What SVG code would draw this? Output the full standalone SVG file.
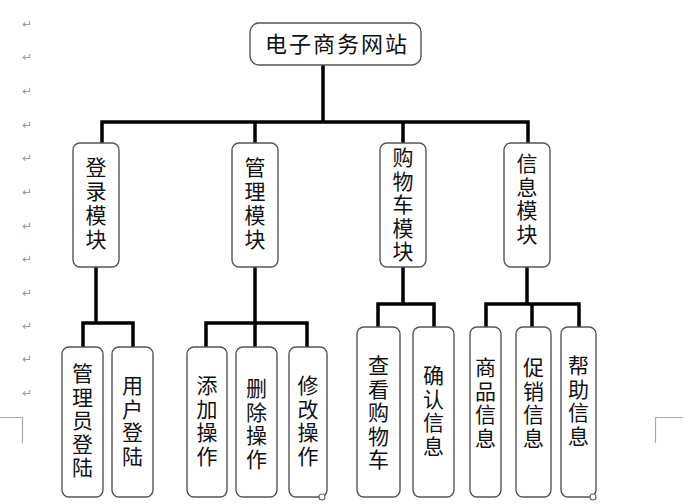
<svg xmlns="http://www.w3.org/2000/svg" width="693" height="504" viewBox="0 0 693 504">
<style>
.box{fill:#fff;stroke:#555;stroke-width:1.4}
.t{font-family:"Noto Sans CJK SC","Liberation Sans",sans-serif;font-size:21px;fill:#111;text-anchor:middle}
.top{font-size:22px;letter-spacing:2px}
.c{fill:none;stroke:#000;stroke-width:3.5;stroke-linejoin:miter}
.pm{font-family:"DejaVu Sans",sans-serif;font-size:12px;fill:#999;text-anchor:middle}
.mk{fill:none;stroke:#aaa;stroke-width:1.2}
</style>
<rect width="693" height="504" fill="#fff"/>
<g id="marks">
<text class="pm" x="27" y="28">↵</text>
<text class="pm" x="27" y="61">↵</text>
<text class="pm" x="27" y="95">↵</text>
<text class="pm" x="27" y="129">↵</text>
<text class="pm" x="27" y="162">↵</text>
<text class="pm" x="27" y="196">↵</text>
<text class="pm" x="27" y="230">↵</text>
<text class="pm" x="27" y="263">↵</text>
<text class="pm" x="27" y="297">↵</text>
<text class="pm" x="27" y="330">↵</text>
<text class="pm" x="27" y="363">↵</text>
<text class="pm" x="27" y="397">↵</text>
<path class="mk" d="M0 417.5 H22.5 V443"/>
<path class="mk" d="M683 417.5 H655.5 V443"/>
</g>
<g id="connectors">
<path class="c" d="M323 65 V122"/>
<path class="c" d="M102 143 V122 H528 V143"/>
<path class="c" d="M255 122 V143"/>
<path class="c" d="M403 122 V143"/>
<path class="c" d="M96 267 V323"/>
<path class="c" d="M83 347 V323 H133 V347"/>
<path class="c" d="M255 267 V347"/>
<path class="c" d="M206 347 V323 H307 V347"/>
<path class="c" d="M403 267 V304"/>
<path class="c" d="M378 327 V304 H434 V327"/>
<path class="c" d="M527 267 V304"/>
<path class="c" d="M486 327 V304 H579 V327"/>
<path class="c" d="M532 304 V327"/>
</g>
<g id="root">
<rect class="box" x="250" y="23" width="171" height="42" rx="9"/>
<text class="t top" x="337" y="52">电子商务网站</text>
</g>
<g id="login">
<rect class="box" x="73" y="143" width="46" height="124" rx="7"/>
<text class="t" y="175"><tspan x="96">登</tspan><tspan x="96" dy="24">录</tspan><tspan x="96" dy="24">模</tspan><tspan x="96" dy="24">块</tspan></text>
</g>
<g id="manage">
<rect class="box" x="232" y="143" width="46" height="124" rx="7"/>
<text class="t" y="175"><tspan x="255">管</tspan><tspan x="255" dy="24">理</tspan><tspan x="255" dy="24">模</tspan><tspan x="255" dy="24">块</tspan></text>
</g>
<g id="cart">
<rect class="box" x="380" y="143" width="46" height="124" rx="7"/>
<text class="t" y="165"><tspan x="403">购</tspan><tspan x="403" dy="23.5">物</tspan><tspan x="403" dy="23.5">车</tspan><tspan x="403" dy="23.5">模</tspan><tspan x="403" dy="23.5">块</tspan></text>
</g>
<g id="info">
<rect class="box" x="504" y="143" width="46" height="124" rx="7"/>
<text class="t" y="171"><tspan x="527">信</tspan><tspan x="527" dy="23.5">息</tspan><tspan x="527" dy="23.5">模</tspan><tspan x="527" dy="23.5">块</tspan></text>
</g>
<g id="admin-login">
<rect class="box" x="62" y="347" width="41" height="150" rx="7"/>
<text class="t" y="381"><tspan x="82.5">管</tspan><tspan x="82.5" dy="23.5">理</tspan><tspan x="82.5" dy="23.5">员</tspan><tspan x="82.5" dy="23.5">登</tspan><tspan x="82.5" dy="23.5">陆</tspan></text>
</g>
<g id="user-login">
<rect class="box" x="112" y="347" width="41" height="150" rx="7"/>
<text class="t" y="393"><tspan x="132.5">用</tspan><tspan x="132.5" dy="23.5">户</tspan><tspan x="132.5" dy="23.5">登</tspan><tspan x="132.5" dy="23.5">陆</tspan></text>
</g>
<g id="add">
<rect class="box" x="187" y="347" width="40" height="150" rx="7"/>
<text class="t" y="393"><tspan x="207">添</tspan><tspan x="207" dy="23.5">加</tspan><tspan x="207" dy="23.5">操</tspan><tspan x="207" dy="23.5">作</tspan></text>
</g>
<g id="delete">
<rect class="box" x="236" y="347" width="41" height="150" rx="7"/>
<text class="t" y="396"><tspan x="256.5">删</tspan><tspan x="256.5" dy="23.5">除</tspan><tspan x="256.5" dy="23.5">操</tspan><tspan x="256.5" dy="23.5">作</tspan></text>
</g>
<g id="modify">
<rect class="box" x="289" y="347" width="38" height="150" rx="7"/>
<text class="t" y="393"><tspan x="308">修</tspan><tspan x="308" dy="23.5">改</tspan><tspan x="308" dy="23.5">操</tspan><tspan x="308" dy="23.5">作</tspan></text>
<circle cx="322" cy="497" r="3" fill="#fff" stroke="#666" stroke-width="1.2"/>
</g>
<g id="view-cart">
<rect class="box" x="357" y="327" width="43" height="170" rx="7"/>
<text class="t" y="373"><tspan x="378.5">查</tspan><tspan x="378.5" dy="23.5">看</tspan><tspan x="378.5" dy="23.5">购</tspan><tspan x="378.5" dy="23.5">物</tspan><tspan x="378.5" dy="23.5">车</tspan></text>
</g>
<g id="confirm">
<rect class="box" x="413" y="327" width="41" height="170" rx="7"/>
<text class="t" y="383"><tspan x="433.5">确</tspan><tspan x="433.5" dy="23.5">认</tspan><tspan x="433.5" dy="23.5">信</tspan><tspan x="433.5" dy="23.5">息</tspan></text>
</g>
<g id="goods">
<rect class="box" x="470" y="327" width="31" height="170" rx="7"/>
<text class="t" y="375"><tspan x="485.5">商</tspan><tspan x="485.5" dy="23.5">品</tspan><tspan x="485.5" dy="23.5">信</tspan><tspan x="485.5" dy="23.5">息</tspan></text>
</g>
<g id="promo">
<rect class="box" x="516" y="327" width="35" height="170" rx="7"/>
<text class="t" y="375"><tspan x="533.5">促</tspan><tspan x="533.5" dy="23.5">销</tspan><tspan x="533.5" dy="23.5">信</tspan><tspan x="533.5" dy="23.5">息</tspan></text>
</g>
<g id="help">
<rect class="box" x="561" y="327" width="35" height="170" rx="7"/>
<text class="t" y="373"><tspan x="578.5">帮</tspan><tspan x="578.5" dy="23.5">助</tspan><tspan x="578.5" dy="23.5">信</tspan><tspan x="578.5" dy="23.5">息</tspan></text>
<circle cx="593" cy="497" r="3" fill="#fff" stroke="#666" stroke-width="1.2"/>
</g>
</svg>
